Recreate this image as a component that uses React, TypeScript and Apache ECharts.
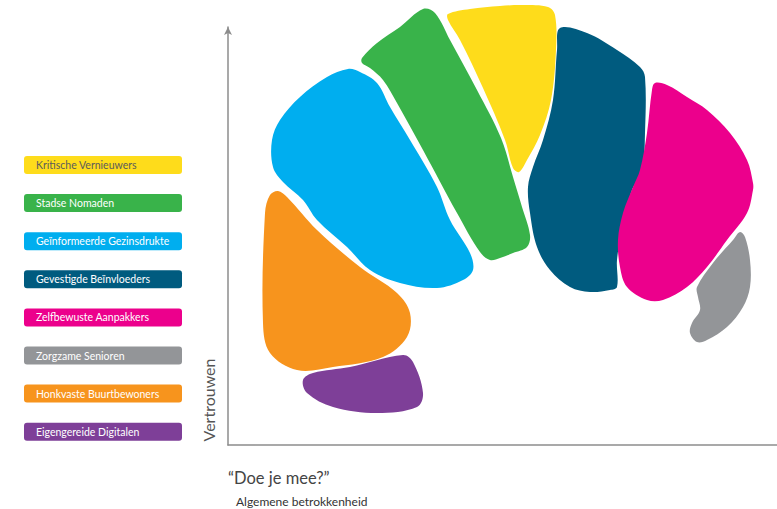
import React, { useEffect, useRef } from "react";
import * as echarts from "echarts";

// Segment names (legend order) and their colours
const CATEGORIES = [
  "Kritische Vernieuwers",
  "Stadse Nomaden",
  "Geïnformeerde Gezinsdrukte",
  "Gevestigde Beïnvloeders",
  "Zelfbewuste Aanpakkers",
  "Zorgzame Senioren",
  "Honkvaste Buurtbewoners",
  "Eigengereide Digitalen",
];
const COLORS = ["#FEDC1B", "#39B34A", "#00AEEF", "#005B7F", "#EC008C", "#939598", "#F7941D", "#7E3F98"];
const LEGEND_TEXT_COLORS = ["#5b5b5b", "#fff", "#fff", "#fff", "#fff", "#fff", "#fff", "#fff"];

// Blob outlines in axis units (x: betrokkenheid, y: vertrouwen)
const outlineKritische = [[220,431],[242,436],[272,439],[295,440],[320,438],[327,430],[328,395],[323,345],[312,310],[299,285],[291,273],[285,277],[277,305],[255,357],[232,405],[220,425]];
const outlineNomaden = [[195,436],[207,432],[222,405],[249,355],[273,307],[285,268],[294,238],[302,210],[299,198],[285,192],[272,187],[262,185],[252,193],[229,232],[195,295],[169,342],[155,365],[142,377],[134,382],[134,387],[149,402],[172,418]];
const outlineGezinsdrukte = [[120,376],[132,373],[149,362],[162,338],[182,305],[209,258],[222,225],[242,192],[245,175],[235,165],[209,157],[172,162],[142,175],[119,198],[89,225],[75,245],[55,263],[45,278],[44,305],[52,325],[72,348],[99,368]];
const outlineBeinvloeders = [[332,417],[359,412],[389,395],[412,378],[417,368],[417,312],[414,272],[404,255],[394,215],[389,185],[389,158],[382,155],[362,153],[342,158],[322,175],[309,198],[302,232],[300,258],[305,278],[315,305],[325,345],[329,395]];
const outlineAanpakkers = [[427,362],[439,360],[459,348],[479,335],[502,312],[519,285],[525,262],[525,255],[519,232],[499,205],[479,178],[459,158],[435,145],[419,145],[399,158],[392,178],[390,205],[395,232],[405,258],[412,275],[419,312],[424,355]];
const outlineSenioren = [[512,213],[517,208],[522,185],[522,158],[515,138],[499,118],[479,105],[469,103],[462,112],[464,122],[472,135],[470,148],[469,158],[485,182],[505,205]];
const outlineBuurtbewoners = [[50,254],[59,248],[89,215],[132,178],[169,152],[182,132],[179,108],[155,88],[105,78],[69,75],[42,92],[35,122],[37,232],[42,250]];
const outlineDigitalen = [[175,90],[185,83],[195,52],[189,38],[149,32],[105,38],[79,52],[75,65],[85,72],[122,78]];

const OUTLINES = [
  outlineKritische,
  outlineNomaden,
  outlineGezinsdrukte,
  outlineBeinvloeders,
  outlineAanpakkers,
  outlineSenioren,
  outlineBuurtbewoners,
  outlineDigitalen,
];

const X_AXIS_TITLE = "“Doe je mee?”";
const X_AXIS_SUBTITLE = "Algemene betrokkenheid";
const Y_AXIS_TITLE = "Vertrouwen";

export default function App() {
  const ref = useRef<HTMLDivElement>(null);

  useEffect(() => {
    if (!ref.current) return;
    const chart = echarts.init(ref.current, undefined, { renderer: "svg" });

    const legendGraphics: any[] = [];
    CATEGORIES.forEach((name, i) => {
      const cy = 165 + i * 38.1;
      legendGraphics.push({
        type: "rect",
        shape: { x: 24, y: cy - 9, width: 158, height: 18, r: 3 },
        style: { fill: COLORS[i] },
      });
      legendGraphics.push({
        type: "text",
        x: 36,
        y: cy,
        style: {
          text: name,
          fill: LEGEND_TEXT_COLORS[i],
          font: '10.5px Lato, "Open Sans", sans-serif',
          verticalAlign: "middle",
        },
      });
    });

    const option: any = {
      animation: false,
      backgroundColor: "#fff",
      grid: { left: 228, right: 0, top: 27, bottom: 64 },
      xAxis: {
        type: "value",
        min: 0,
        max: 549,
        axisLine: { show: true, lineStyle: { color: "#8c8c8c", width: 1.5 } },
        axisTick: { show: false },
        axisLabel: { show: false },
        splitLine: { show: false },
      },
      yAxis: {
        type: "value",
        min: 0,
        max: 418,
        axisLine: {
          show: true,
          symbol: ["none", "arrow"],
          symbolSize: [6, 8],
          lineStyle: { color: "#8c8c8c", width: 1.5 },
        },
        axisTick: { show: false },
        axisLabel: { show: false },
        splitLine: { show: false },
      },
      series: [
        {
          type: "custom",
          coordinateSystem: "cartesian2d",
          clip: false,
          data: CATEGORIES.map((name, i) => ({ name, value: OUTLINES[i][0] })),
          renderItem: (params: any, api: any) => {
            const idx = params.dataIndex;
            const pts = OUTLINES[idx].map((p) => api.coord(p));
            return {
              type: "polygon",
              shape: { points: pts, smooth: 0.35 },
              style: { fill: COLORS[idx] },
            };
          },
        },
      ],
      graphic: [
        ...legendGraphics,
        {
          type: "text",
          x: 208,
          y: 400,
          rotation: Math.PI / 2,
          style: {
            text: Y_AXIS_TITLE,
            fill: "#555",
            font: '16px Lato, "Open Sans", sans-serif',
            align: "center",
            verticalAlign: "middle",
          },
        },
        {
          type: "text",
          x: 228,
          y: 478,
          style: {
            text: X_AXIS_TITLE,
            fill: "#444",
            font: '16.5px Lato, "Open Sans", sans-serif',
            verticalAlign: "middle",
          },
        },
        {
          type: "text",
          x: 236,
          y: 501,
          style: {
            text: X_AXIS_SUBTITLE,
            fill: "#333",
            font: '12px Lato, "Open Sans", sans-serif',
            verticalAlign: "middle",
          },
        },
      ],
    };

    chart.setOption(option);
    return () => chart.dispose();
  }, []);

  return (
    <div
      ref={ref}
      style={{ position: "fixed", left: 0, top: 0, width: 777, height: 509 }}
    />
  );
}
